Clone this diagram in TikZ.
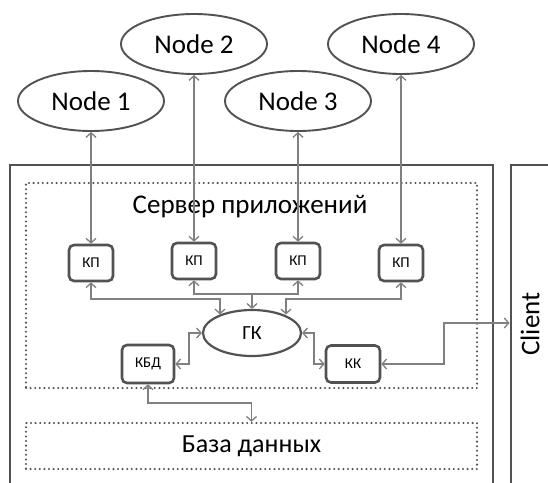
\documentclass[tikz,border=0pt]{standalone}
\usepackage{fontspec}
\setmainfont{Carlito}
\usepackage{graphicx}
\usetikzlibrary{arrows.meta,shapes.geometric}
\definecolor{lineGray}{gray}{0.5}
\definecolor{boxGray}{gray}{0.32}
\begin{document}
\begin{tikzpicture}
        [x=1pt, y=-1pt,
        link/.style={draw=lineGray, line width=1.3pt, {Straight Barb[length=4.5pt,width=10pt]}-{Straight Barb[length=4.5pt,width=10pt]}},
        linkOne/.style={draw=lineGray, line width=1.3pt, -{Straight Barb[length=4.5pt,width=10pt]}},
        peer/.style={ellipse, draw=boxGray, line width=1.9pt, minimum width=146pt, minimum height=60pt, inner sep=0pt, font=\fontsize{27}{32}\selectfont},
        unit/.style={rectangle, rounded corners=5pt, draw=boxGray, line width=2.6pt, minimum width=44pt, minimum height=36pt, inner sep=0pt, font=\fontsize{15}{18}\selectfont},
        dotbox/.style={draw=boxGray, line width=2.3pt, dash pattern=on 0pt off 4.6pt, line cap=round},
        frame/.style={draw=boxGray, line width=2.8pt}]
        \useasboundingbox[fill=white] (0,0) rectangle (548,482);

        % outer frames
        \draw[frame] (10,165) rectangle (493,500);
        \node[frame, rectangle, minimum width=50pt, minimum height=330pt, inner sep=0pt] (client) at (536,330) {};
        \node[inner sep=0pt, font=\fontsize{27}{32}\selectfont] (clientLabel) at (530,324) {\rotatebox{90}{Client}};
        \node[dotbox, rectangle, minimum width=451pt, minimum height=205pt] (srv) at (251.5,285.5) {};
        \node[font=\fontsize{27}{32}\selectfont] (srvLabel) at (250,207) {Сервер приложений};
        \node[dotbox, rectangle, minimum width=451pt, minimum height=46pt, font=\fontsize{26}{30}\selectfont] (db) at (251.5,446) {База данных};

        % peers
        \node[peer] (N1) at (91,101) {Node 1};
        \node[peer] (N2) at (194,44) {Node 2};
        \node[peer] (N3) at (298,101) {Node 3};
        \node[peer] (N4) at (401,44) {Node 4};

        % server units
        \node[unit] (KP1) at (91,263) {КП};
        \node[unit] (KP2) at (194,261) {КП};
        \node[unit] (KP3) at (298,261) {КП};
        \node[unit] (KP4) at (401,263) {КП};
        \node[ellipse, draw=boxGray, line width=2.2pt, minimum width=98pt, minimum height=46pt, inner sep=0pt, font=\fontsize{20}{24}\selectfont] (GK) at (252,333) {ГК};
        \node[unit, minimum width=52pt, minimum height=38pt] (KBD) at (148,364) {КБД};
        \node[unit, minimum width=54pt, minimum height=37pt] (KK) at (353,364) {КК};

        \coordinate (b1) at (220,299);
        \coordinate (m) at (252,294);
        \coordinate (b4) at (286,299);
        \coordinate (c1) at (444,323);
        \coordinate (d1) at (251.5,403);

        \draw[link] (N1) -- (KP1);
        \draw[link] (N2) -- (KP2);
        \draw[link] (N3) -- (KP3);
        \draw[link] (N4) -- (KP4);

        \draw[link] (KP1.south) |- (b1) -- (b1 |- GK.150);
        \draw[link] (KP2.south) |- (m) -| (KP3.south);
        \draw[linkOne] (m) -- (GK.north);
        \draw[link] (KP4.south) |- (b4) -- (b4 |- GK.30);

        \draw[link] (GK.west) -- ++(-13,0) |- (KBD.east);
        \draw[link] (GK.east) -- ++(12,0) |- (KK.west);
        \draw[link] (KK.east) -| (c1) -- (client.west |- c1);
        \draw[link] (KBD.south) |- (d1) -- (db.north);
    \end{tikzpicture}
\end{document}
